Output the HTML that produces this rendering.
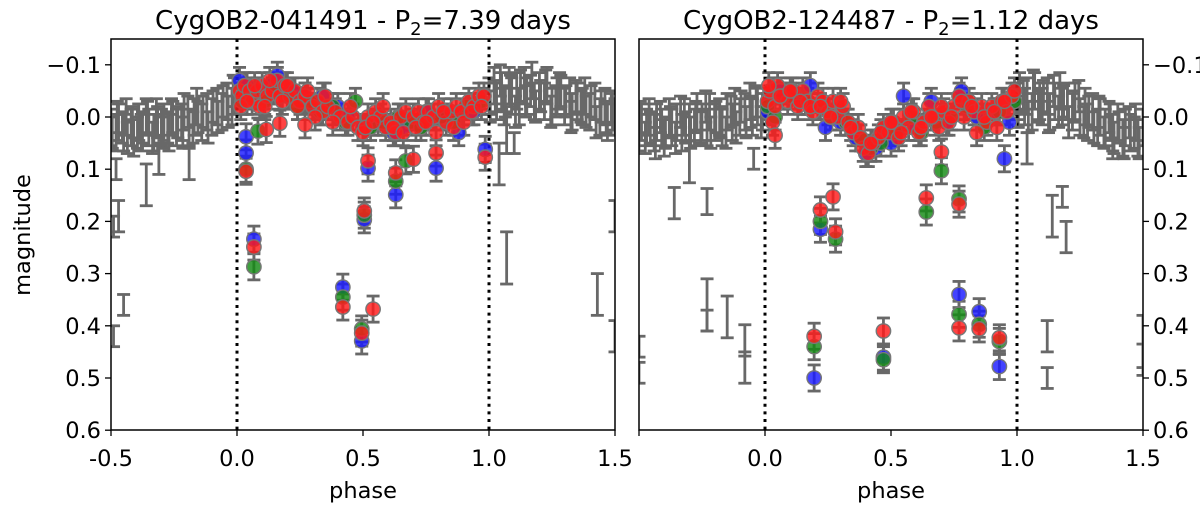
<!DOCTYPE html>
<html><head><meta charset="utf-8"><style>
html,body{margin:0;padding:0;background:#fff;}
svg{display:block;font-family:"DejaVu Sans","Liberation Sans",sans-serif;}
</style></head><body>
<svg id="fig" width="1200" height="508" viewBox="0 0 1200 508" xmlns="http://www.w3.org/2000/svg">
<defs>
<clipPath id="clipL"><rect x="111" y="39" width="504" height="391"/></clipPath>
<clipPath id="clipR"><rect x="639" y="39" width="504" height="391"/></clipPath>
</defs>
<text x="363" y="29" font-size="26" text-anchor="middle">CygOB2-041491 - P<tspan font-size="18" dy="6">2</tspan><tspan dy="-6">=7.39 days</tspan></text>
<text x="891" y="29" font-size="26" text-anchor="middle">CygOB2-124487 - P<tspan font-size="18" dy="6">2</tspan><tspan dy="-6">=1.12 days</tspan></text>
<text transform="translate(30,235) rotate(-90)" font-size="22.5" text-anchor="middle">magnitude</text>
<text x="363" y="498" font-size="22.5" text-anchor="middle">phase</text>
<text x="891" y="498" font-size="22.5" text-anchor="middle">phase</text>
<g id="panelL"></g>
<g id="panelR"></g>
</svg>
<script>
// ---------- shared ticks ----------
const xTicks = [-0.5, 0.0, 0.5, 1.0, 1.5];
const xTickLabels = ["-0.5", "0.0", "0.5", "1.0", "1.5"];
const yTicks = [-0.1, 0.0, 0.1, 0.2, 0.3, 0.4, 0.5, 0.6];
const yTickLabels = ["\u22120.1", "0.0", "0.1", "0.2", "0.3", "0.4", "0.5", "0.6"];

// ---------- left star CygOB2-041491 ----------
const L_grayPhase = [-0.5,-0.48,-0.47,-0.45,-0.44,-0.42,-0.41,-0.39,-0.38,-0.36,-0.35,-0.33,-0.32,-0.30,-0.29,-0.27,-0.26,-0.24,-0.22,-0.21,-0.19,-0.17,-0.16,-0.14,-0.12,-0.10,-0.08,-0.06,-0.04,-0.02,-0.01,
 -0.495,-0.475,-0.455,-0.435,-0.415,-0.395,-0.375,-0.355,-0.335,-0.315,-0.295,-0.275,-0.255,-0.235,-0.215,-0.195,-0.175,-0.155,-0.135,-0.115,-0.095,-0.075,-0.055,-0.035,-0.015,
 -0.48,-0.36,-0.31,-0.19,-0.47,-0.49,-0.45,-0.49,
 1.0,1.02,1.03,1.05,1.06,1.08,1.09,1.11,1.12,1.14,1.15,1.17,1.18,1.20,1.22,1.23,1.25,1.27,1.28,1.30,1.32,1.33,1.35,1.37,1.38,1.40,1.42,1.44,1.46,1.47,1.49,1.5,
 1.005,1.025,1.045,1.065,1.085,1.105,1.125,1.145,1.165,1.185,1.205,1.225,1.245,1.265,1.285,1.305,1.325,1.345,1.365,1.385,1.405,1.425,1.445,1.465,1.485,
 1.04,1.07,1.43,1.5,1.5,1.10,1.07];
const L_grayMag = [0.02,0.03,0.01,0.03,0.0,0.02,0.04,0.01,0.03,0.0,0.02,0.03,0.0,0.02,0.01,0.03,0.0,0.02,0.01,-0.01,0.02,0.0,-0.02,0.01,-0.01,0.0,-0.02,-0.01,-0.03,-0.02,-0.04,
 0.03,0.0,0.02,0.04,0.01,0.03,0.02,0.0,0.04,0.01,0.03,0.02,0.0,0.01,0.03,-0.01,0.02,0.0,-0.01,0.02,-0.02,0.0,-0.03,-0.01,-0.05,
 0.10,0.13,0.08,0.09,0.19,0.42,0.36,0.21,
 -0.04,-0.06,-0.03,-0.05,-0.02,-0.06,-0.04,-0.05,-0.02,-0.06,-0.04,-0.07,-0.03,-0.05,-0.03,-0.06,-0.02,-0.04,-0.05,-0.02,-0.04,-0.01,-0.03,-0.02,-0.04,-0.01,-0.03,0.0,-0.02,0.01,-0.01,0.0,
 -0.02,-0.04,-0.07,-0.03,-0.05,-0.01,-0.06,-0.03,-0.05,-0.02,-0.04,-0.06,-0.01,-0.03,-0.05,-0.03,0.0,-0.04,-0.02,-0.01,-0.03,0.01,-0.02,0.0,-0.02,
 0.09,0.27,0.34,0.42,0.19,0.05,0.03];
const L_grayErr = [0.035,0.035,0.035,0.035,0.035,0.035,0.035,0.035,0.035,0.035,0.035,0.035,0.035,0.035,0.035,0.035,0.035,0.035,0.035,0.035,0.035,0.035,0.035,0.035,0.035,0.035,0.035,0.035,0.035,0.035,0.035,
 0.03,0.03,0.03,0.03,0.03,0.03,0.03,0.03,0.03,0.03,0.03,0.03,0.03,0.03,0.03,0.03,0.03,0.03,0.03,0.03,0.03,0.03,0.03,0.03,0.03,
 0.02,0.04,0.03,0.03,0.03,0.02,0.02,0.02,
 0.035,0.035,0.035,0.035,0.035,0.035,0.035,0.035,0.035,0.035,0.035,0.035,0.035,0.035,0.035,0.035,0.035,0.035,0.035,0.035,0.035,0.035,0.035,0.035,0.035,0.035,0.035,0.035,0.035,0.035,0.035,0.035,
 0.03,0.03,0.03,0.03,0.03,0.03,0.03,0.03,0.03,0.03,0.03,0.03,0.03,0.03,0.03,0.03,0.03,0.03,0.03,0.03,0.03,0.03,0.03,0.03,0.03,
 0.04,0.05,0.04,0.03,0.03,0.02,0.04];
const L_redPhase = [0.01,0.02,0.03,0.05,0.06,0.08,0.09,0.10,0.12,0.14,0.16,0.17,0.19,0.21,0.23,0.25,0.27,0.30,0.32,0.34,0.36,0.39,0.41,0.44,0.46,0.48,0.50,0.52,0.55,0.57,0.59,0.61,0.63,0.65,0.67,0.70,0.72,0.74,0.76,0.78,0.80,0.83,0.85,0.87,0.89,0.92,0.94,0.96,0.98,
 0.015,0.04,0.07,0.11,0.13,0.18,0.20,0.24,0.28,0.31,0.35,0.38,0.45,0.51,0.54,0.58,0.62,0.66,0.71,0.75,0.79,0.82,0.86,0.90,0.93,0.97,
 0.036,0.067,0.42,0.495,0.54,0.505,0.52,0.63,0.70,0.79,0.985,0.116,0.17,0.27];
const L_redMag = [-0.05,-0.04,-0.06,-0.05,-0.03,-0.05,-0.02,-0.06,-0.04,-0.05,-0.07,-0.04,-0.06,-0.04,-0.05,-0.03,-0.04,-0.02,-0.03,-0.01,-0.02,-0.01,0.0,0.01,0.0,0.02,0.03,0.0,-0.01,0.0,0.02,0.01,0.03,0.0,-0.01,0.0,-0.01,0.01,-0.01,0.0,-0.02,0.01,-0.01,-0.02,-0.01,-0.03,-0.02,-0.04,-0.04,
 -0.02,-0.03,-0.06,-0.02,-0.07,-0.03,-0.06,-0.02,-0.05,0.0,-0.04,0.01,-0.02,0.02,0.01,-0.02,0.02,0.03,0.02,0.01,0.03,-0.01,0.02,0.01,-0.01,-0.02,
 0.104,0.249,0.364,0.414,0.368,0.18,0.084,0.107,0.081,0.069,0.077,0.024,0.012,0.015];
const L_bluePhase = [0.01,0.04,0.08,0.13,0.16,0.22,0.27,0.34,0.40,0.44,0.50,0.56,0.62,0.66,0.75,0.82,0.88,0.94,
 0.036,0.036,0.067,0.42,0.495,0.505,0.52,0.63,0.79,0.985];
const L_blueMag = [-0.07,-0.06,-0.05,-0.06,-0.08,-0.05,-0.04,-0.04,-0.02,0.0,0.02,0.01,0.03,0.02,-0.01,0.0,0.03,-0.01,
 0.038,0.069,0.234,0.326,0.429,0.197,0.098,0.149,0.098,0.062];
const L_greenPhase = [0.02,0.06,0.11,0.15,0.20,0.24,0.29,0.33,0.38,0.43,0.47,0.53,0.58,0.64,0.69,0.73,0.81,0.86,0.91,0.97,
 0.036,0.067,0.083,0.42,0.495,0.505,0.63,0.67];
const L_greenMag = [-0.03,-0.04,-0.03,-0.05,-0.04,-0.02,-0.03,-0.01,-0.02,0.01,-0.03,0.02,0.01,0.0,0.01,0.02,0.0,0.01,-0.02,-0.03,
 0.10,0.287,0.027,0.345,0.406,0.188,0.123,0.084];

// ---------- right star CygOB2-124487 ----------
const R_grayPhase = [-0.5,-0.49,-0.47,-0.46,-0.44,-0.43,-0.41,-0.40,-0.38,-0.37,-0.35,-0.33,-0.32,-0.30,-0.28,-0.27,-0.25,-0.23,-0.22,-0.20,-0.18,-0.17,-0.15,-0.13,-0.12,-0.10,-0.08,-0.06,-0.05,-0.03,-0.01,
 -0.495,-0.475,-0.455,-0.435,-0.415,-0.395,-0.375,-0.355,-0.335,-0.315,-0.295,-0.275,-0.255,-0.235,-0.215,-0.195,-0.175,-0.155,-0.135,-0.115,-0.095,-0.075,-0.055,-0.035,-0.015,
 -0.30,-0.36,-0.23,-0.045,-0.23,-0.23,-0.15,-0.08,-0.08,-0.5,-0.5,
 1.0,1.01,1.03,1.04,1.06,1.07,1.09,1.10,1.12,1.13,1.15,1.17,1.18,1.20,1.22,1.23,1.25,1.27,1.28,1.30,1.32,1.33,1.35,1.37,1.38,1.40,1.42,1.43,1.45,1.47,1.48,1.5,
 1.005,1.025,1.045,1.065,1.085,1.105,1.125,1.145,1.165,1.185,1.205,1.225,1.245,1.265,1.285,1.305,1.325,1.345,1.365,1.385,1.405,1.425,1.445,1.465,1.485,
 1.18,1.14,1.195,1.12,1.12,1.5,1.5,1.38,1.04];
const R_grayMag = [0.03,0.01,0.02,0.0,0.03,0.01,0.02,0.04,0.0,0.02,0.01,0.03,0.0,0.01,0.02,-0.01,0.01,0.02,-0.01,0.01,0.0,0.02,-0.01,0.01,-0.02,0.0,-0.01,-0.03,0.0,-0.02,-0.01,
 0.0,0.04,0.02,0.05,0.0,0.03,0.01,0.04,-0.01,0.02,0.03,0.0,0.02,-0.02,0.03,0.0,0.01,0.03,-0.01,0.02,-0.02,0.01,-0.01,-0.03,0.01,
 0.086,0.165,0.162,0.08,0.36,0.39,0.383,0.428,0.48,0.44,0.49,
 -0.03,-0.05,-0.02,-0.04,-0.01,-0.05,-0.03,-0.02,-0.04,-0.01,-0.03,-0.05,-0.02,-0.03,-0.01,-0.03,0.0,-0.02,0.01,-0.01,0.02,0.0,0.02,0.01,0.03,0.01,0.04,0.02,0.03,0.01,0.04,0.02,
 -0.01,-0.04,0.0,-0.06,-0.02,-0.04,0.0,-0.05,-0.01,-0.03,0.01,-0.02,-0.04,0.01,-0.01,0.02,-0.01,0.03,0.0,0.04,0.02,0.05,0.01,0.03,0.05,
 0.153,0.19,0.23,0.42,0.50,0.43,0.465,0.06,0.06];
const R_grayErr = [0.035,0.035,0.035,0.035,0.035,0.035,0.035,0.035,0.035,0.035,0.035,0.035,0.035,0.035,0.035,0.035,0.035,0.035,0.035,0.035,0.035,0.035,0.035,0.035,0.035,0.035,0.035,0.035,0.035,0.035,0.035,
 0.03,0.03,0.03,0.03,0.03,0.03,0.03,0.03,0.03,0.03,0.03,0.03,0.03,0.03,0.03,0.03,0.03,0.03,0.03,0.03,0.03,0.03,0.03,0.03,0.03,
 0.04,0.03,0.025,0.02,0.05,0.02,0.04,0.03,0.03,0.02,0.02,
 0.035,0.035,0.035,0.035,0.035,0.035,0.035,0.035,0.035,0.035,0.035,0.035,0.035,0.035,0.035,0.035,0.035,0.035,0.035,0.035,0.035,0.035,0.035,0.035,0.035,0.035,0.035,0.035,0.035,0.035,0.035,0.035,
 0.03,0.03,0.03,0.03,0.03,0.03,0.03,0.03,0.03,0.03,0.03,0.03,0.03,0.03,0.03,0.03,0.03,0.03,0.03,0.03,0.03,0.03,0.03,0.03,0.03,
 0.02,0.04,0.03,0.03,0.02,0.05,0.03,0.02,0.03];
const R_redPhase = [0.01,0.02,0.03,0.05,0.07,0.09,0.11,0.13,0.15,0.17,0.19,0.21,0.23,0.25,0.27,0.29,0.31,0.33,0.35,0.37,0.39,0.41,0.43,0.45,0.47,0.49,0.51,0.53,0.55,0.57,0.59,0.61,0.63,0.65,0.67,0.69,0.71,0.73,0.75,0.77,0.79,0.81,0.83,0.86,0.88,0.90,0.92,0.94,0.96,0.98,
 0.015,0.04,0.06,0.10,0.14,0.18,0.22,0.26,0.30,0.34,0.38,0.42,0.46,0.50,0.54,0.58,0.62,0.66,0.70,0.74,0.78,0.82,0.87,0.91,0.95,0.99,
 0.04,0.195,0.22,0.27,0.28,0.47,0.64,0.70,0.77,0.77,0.85,0.93,0.84];
const R_redMag = [-0.03,-0.05,0.01,-0.06,-0.04,-0.03,-0.05,-0.02,-0.05,-0.03,-0.01,-0.04,-0.03,-0.01,-0.03,0.0,-0.02,0.01,0.03,0.02,0.06,0.07,0.05,0.04,0.02,0.03,0.01,0.04,0.0,0.02,-0.01,0.03,0.01,-0.02,0.0,0.02,-0.01,0.01,-0.02,-0.04,0.0,-0.03,-0.01,-0.02,0.01,-0.02,0.02,-0.03,-0.01,-0.04,
 -0.06,-0.02,-0.04,-0.05,-0.03,-0.02,-0.02,0.0,-0.03,0.02,0.04,0.05,0.03,0.01,0.03,-0.01,0.02,0.0,-0.02,0.0,-0.03,-0.02,0.0,-0.01,-0.03,-0.05,
 0.035,0.42,0.178,0.153,0.22,0.41,0.155,0.067,0.167,0.404,0.406,0.423,0.03];
const R_bluePhase = [0.01,0.06,0.12,0.18,0.24,0.30,0.36,0.40,0.44,0.50,0.55,0.60,0.66,0.72,0.78,0.84,0.91,0.97,
 0.195,0.22,0.47,0.77,0.85,0.93,0.95];
const R_blueMag = [-0.01,-0.05,-0.04,-0.06,0.02,0.01,0.04,0.07,0.06,0.05,-0.04,0.02,-0.03,0.01,-0.05,0.0,-0.01,0.01,
 0.50,0.215,0.46,0.34,0.373,0.478,0.08];
const R_greenPhase = [0.01,0.04,0.10,0.16,0.21,0.26,0.32,0.38,0.42,0.46,0.52,0.58,0.62,0.68,0.74,0.80,0.87,0.93,0.99,
 0.195,0.22,0.28,0.47,0.64,0.70,0.77,0.77,0.85,0.93];
const R_greenMag = [-0.02,0.0,-0.04,-0.03,-0.02,0.0,0.01,0.04,0.06,0.05,0.03,0.0,0.03,0.01,0.0,-0.02,0.02,-0.01,-0.03,
 0.44,0.20,0.234,0.465,0.182,0.103,0.157,0.378,0.397,0.43];

// ---------- drawing ----------
const NS = "http://www.w3.org/2000/svg";
const Y0 = 117, YPX = 522, TOP = 39, BOT = 430;
function yS(m){ return Y0 + m * YPX; }
function mk(tag, attrs, parent){
  const e = document.createElementNS(NS, tag);
  for (const k in attrs) e.setAttribute(k, attrs[k]);
  parent.appendChild(e);
  return e;
}
function drawPanel(g, x0, x1, clipId, side, grayP, grayM, grayE, reds, blues, greens){
  const xS = p => x0 + (p + 0.5) / 2 * (x1 - x0);
  const data = mk("g", {"clip-path": "url(#" + clipId + ")"}, g);
  
  
  function ebar(p, m, e){
    const x = xS(p), ya = yS(m - e), yb = yS(m + e);
    const eg = mk("g", {stroke: "#686868", "stroke-width": 2.8, fill: "none"}, data);
    
    
    mk("line", {x1: x, x2: x, y1: ya, y2: yb}, eg);
    mk("line", {x1: x - 6.5, x2: x + 6.5, y1: ya, y2: ya}, eg);
    mk("line", {x1: x - 6.5, x2: x + 6.5, y1: yb, y2: yb}, eg);
  }
  for (let i = 0; i < grayP.length; i++) ebar(grayP[i], grayM[i], grayE[i]);
  [reds, blues, greens].forEach(s => { for (let i = 0; i < s[0].length; i++) ebar(s[0][i], s[1][i], 0.025); });
  [0, 1].forEach(p => {
    const l = mk("line", {x1: xS(p), x2: xS(p), y1: TOP, y2: BOT, stroke: "#000", "stroke-width": 3, "stroke-dasharray": "3,4.6"}, data);
    
    
  });
  const series = [[blues, "#1a1aff", "blue-point"], [greens, "#138a13", "green-point"], [reds, "#ff1a1a", "red-point"]];
  series.forEach(([s, col, nm]) => {
    for (let i = 0; i < s[0].length; i++){
      const c = mk("circle", {cx: xS(s[0][i]), cy: yS(s[1][i]), r: 7.2, fill: col, "fill-opacity": 0.82, stroke: "#777", "stroke-width": 1.4}, data);
      
      
    }
  });
  const fr = mk("rect", {x: x0, y: TOP, width: x1 - x0, height: BOT - TOP, fill: "none", stroke: "#000", "stroke-width": 1.5}, g);
  
  
  for (let i = 0; i < xTicks.length; i++){
    const x = xS(xTicks[i]);
    mk("line", {x1: x, x2: x, y1: BOT, y2: BOT + 6, stroke: "#000", "stroke-width": 1.3}, g);
    if (side === "right" && i === 0) continue;
    const t = mk("text", {x: x, y: 466, "font-size": 22.5, "text-anchor": "middle"}, g);
    t.textContent = xTickLabels[i];
    
    
  }
  for (let i = 0; i < yTicks.length; i++){
    const y = yS(yTicks[i]);
    if (side === "left"){
      mk("line", {x1: x0 - 6, x2: x0, y1: y, y2: y, stroke: "#000", "stroke-width": 1.3}, g);
      const t = mk("text", {x: x0 - 10, y: y + 8, "font-size": 22.5, "text-anchor": "end"}, g);
      t.textContent = yTickLabels[i];
      
      
    } else {
      mk("line", {x1: x1, x2: x1 + 6, y1: y, y2: y, stroke: "#000", "stroke-width": 1.3}, g);
      const t = mk("text", {x: x1 + 10, y: y + 8, "font-size": 22.5, "text-anchor": "start"}, g);
      t.textContent = yTickLabels[i];
      
      
    }
  }
}
drawPanel(document.getElementById("panelL"), 111, 615, "clipL", "left",
  L_grayPhase, L_grayMag, L_grayErr, [L_redPhase, L_redMag], [L_bluePhase, L_blueMag], [L_greenPhase, L_greenMag]);
drawPanel(document.getElementById("panelR"), 639, 1143, "clipR", "right",
  R_grayPhase, R_grayMag, R_grayErr, [R_redPhase, R_redMag], [R_bluePhase, R_blueMag], [R_greenPhase, R_greenMag]);
</script>
</body></html>
